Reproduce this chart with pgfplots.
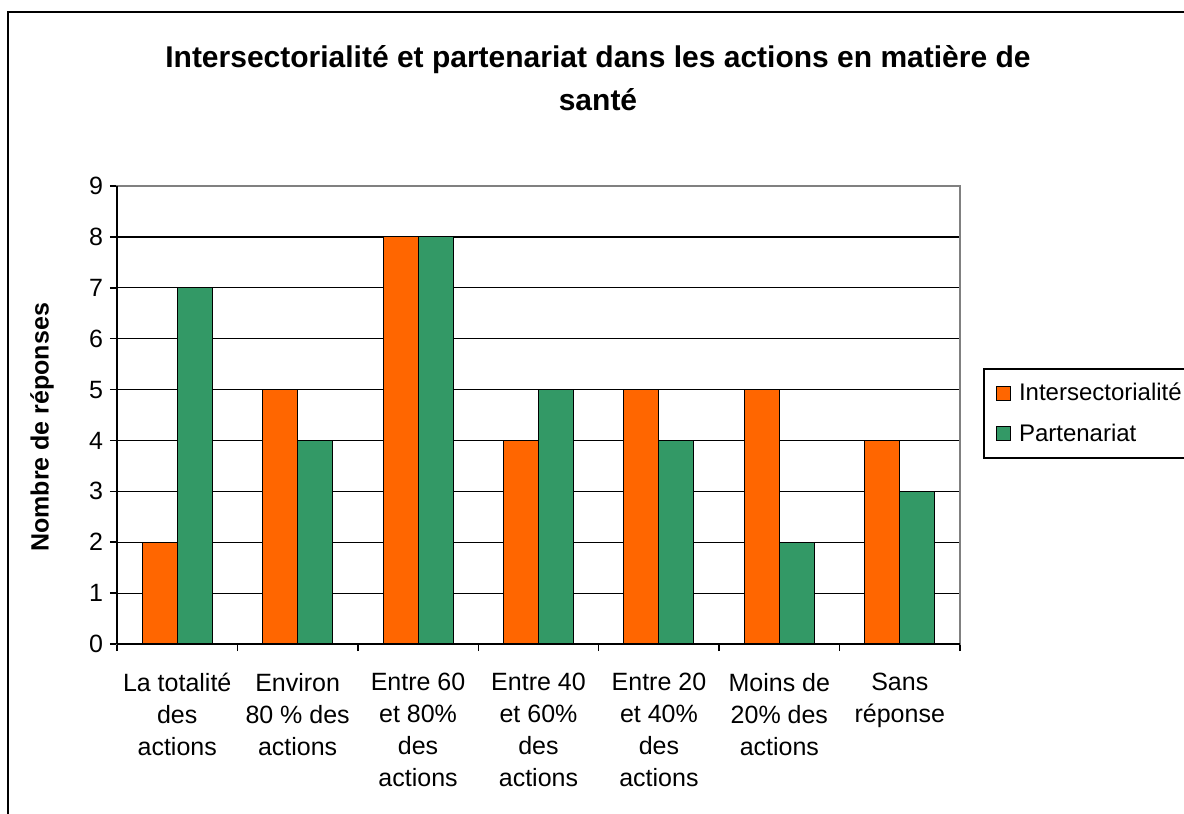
\documentclass[border=0pt]{standalone}
\usepackage{pgfplots}
\pgfplotsset{compat=1.18}
\usepackage{fontspec}
\setmainfont{Liberation Sans}
\definecolor{xlorange}{HTML}{FF6600}
\definecolor{xlgreen}{HTML}{339966}
\begin{document}
\begin{tikzpicture}
% picture frame: 1px = 0.5pt, origin at top-left
\node[font=\bfseries\fontsize{15}{21.5}\selectfont, align=center] at (299pt,-39.25pt)
  {Intersectorialité et partenariat dans les actions en matière de\\santé};
\begin{axis}[
  at={(58.5pt,-322pt)}, anchor=south west,
  scale only axis, width=421.5pt, height=229pt,
  ybar=0pt, bar width=17.5pt,
  xmin=-0.5, xmax=6.5, ymin=0, ymax=9,
  xtick={0,...,6},
  xticklabels={{La totalité\\des\\actions},{Environ\\80 \% des\\actions},{Entre 60\\et 80\%\\des\\actions},{Entre 40\\et 60\%\\des\\actions},{Entre 20\\et 40\%\\des\\actions},{Moins de\\20\% des\\actions},{Sans\\réponse}},
  minor xtick={-0.5,0.5,...,6.5},
  ytick={0,...,9},
  major x tick style={draw=none},
  tick align=outside, tick pos=left,
  major tick length=3.5pt, minor tick length=3.5pt,
  every tick/.style={black, line width=0.75pt},
  ymajorgrids, major grid style={black, line width=0.6pt},
  axis line style={draw=gray, line width=0.75pt},
  ticklabel style={font=\fontsize{12.5}{16}\selectfont},
  xticklabel style={align=center, anchor=north, yshift=-7.5pt},
  /pgf/number format/assume math mode=true,
  ylabel={Nombre de réponses},
  every axis y label/.style={at={(axis description cs:-0.089,0.473)}, rotate=90, anchor=center,
    font=\bfseries\fontsize{12.5}{15}\selectfont},
  legend style={at={(1,0.503)}, anchor=west, xshift=11.5pt, draw=black, line width=1pt,
    font=\fontsize{12}{15}\selectfont, row sep=6pt, inner xsep=6pt, inner ysep=5pt,
    /tikz/every even column/.append style={column sep=0pt}},
  legend cell align=left,
  legend image code/.code={\draw[#1, draw=black, line width=0.5pt] (0pt,-3.5pt) rectangle (7pt,3.5pt);
    \path (9pt,0pt);},
  every axis plot/.append style={draw=black, line width=0.5pt},
  after end axis/.code={
    \draw[black, line width=0.75pt] (rel axis cs:0,0) -- (rel axis cs:0,1);
    \draw[black, line width=0.75pt] (rel axis cs:0,0) -- (rel axis cs:1,0);
  },
]
\addplot[fill=xlorange] coordinates {(0,2) (1,5) (2,8) (3,4) (4,5) (5,5) (6,4)};
\addplot[fill=xlgreen] coordinates {(0,7) (1,4) (2,8) (3,5) (4,4) (5,2) (6,3)};
\legend{Intersectorialité,Partenariat}
\end{axis}
\draw[line width=1pt] (4pt,-420pt) -- (4pt,-6pt) -- (600pt,-6pt);
\pgfresetboundingbox
\useasboundingbox (0,0) rectangle (592pt,-407pt);
\end{tikzpicture}
\end{document}
